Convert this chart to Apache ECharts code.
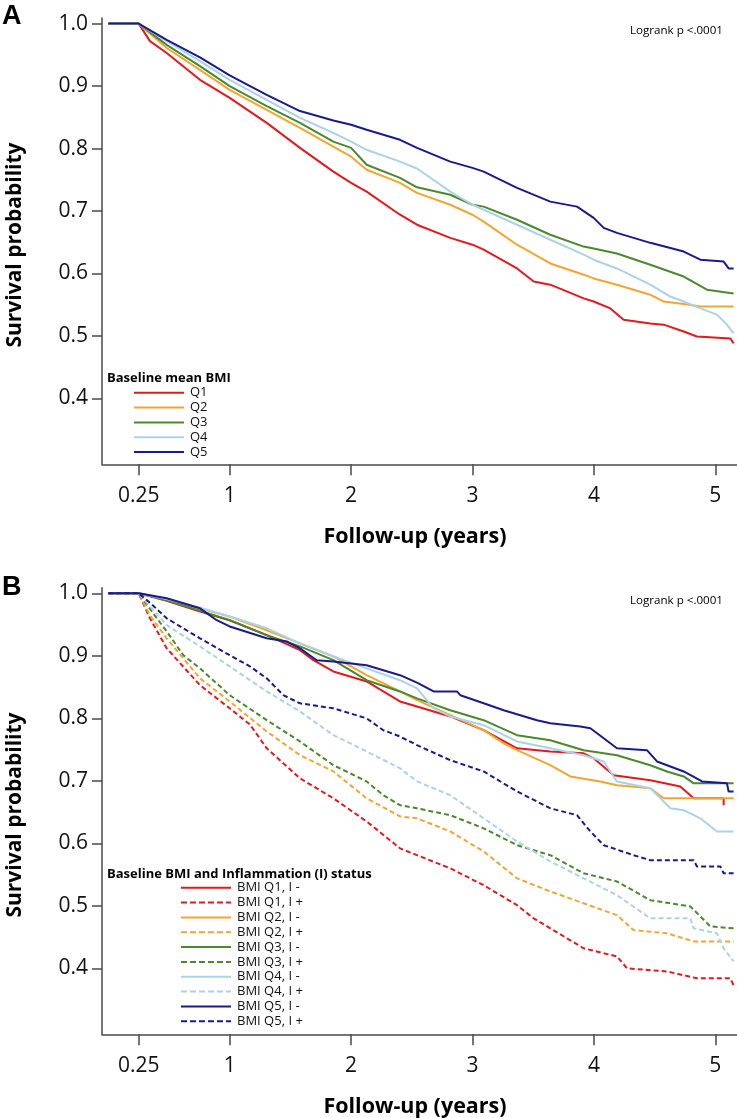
<!DOCTYPE html>
<html>
<head>
<meta charset="utf-8">
<script src="https://cdn.jsdelivr.net/npm/echarts@6/dist/echarts.min.js"></script>
<style>
html,body{margin:0;padding:0;background:#fff;}
#chart{width:737px;height:1118px;}
</style>
</head>
<body>
<div id="chart"></div>
<script>
// ---------- tick labels / categories ----------
const xTicks = [0.25, 1, 2, 3, 4, 5];
const yTicks = [0.4, 0.5, 0.6, 0.7, 0.8, 0.9, 1.0];
const namesA = ['Q1', 'Q2', 'Q3', 'Q4', 'Q5'];
const namesB = ['BMI Q1, I -', 'BMI Q1, I +', 'BMI Q2, I -', 'BMI Q2, I +', 'BMI Q3, I -',
                'BMI Q3, I +', 'BMI Q4, I -', 'BMI Q4, I +', 'BMI Q5, I -', 'BMI Q5, I +'];

// ---------- Panel A: [years, survival] ----------
const a_q1 = [[0,1],[0.25,1],[0.343,0.972],[0.481,0.953],[0.755,0.910],[1.0,0.881],[1.305,0.841],[1.579,0.801],[1.854,0.763],[2.0,0.745],[2.128,0.731],[2.403,0.694],[2.543,0.678],[2.817,0.657],[3.0,0.646],[3.092,0.638],[3.367,0.608],[3.504,0.587],[3.641,0.582],[3.916,0.560],[3.998,0.555],[4.136,0.544],[4.245,0.526],[4.465,0.520],[4.575,0.518],[4.740,0.507],[4.849,0.499],[5.124,0.496],[5.151,0.488]];
const a_q2 = [[0,1],[0.25,1],[0.481,0.961],[0.755,0.926],[1.0,0.894],[1.305,0.862],[1.579,0.833],[1.854,0.803],[2.0,0.787],[2.128,0.766],[2.403,0.745],[2.543,0.729],[2.817,0.710],[3.0,0.694],[3.092,0.683],[3.367,0.646],[3.641,0.616],[3.916,0.598],[3.998,0.592],[4.190,0.582],[4.465,0.566],[4.575,0.555],[4.740,0.551],[4.877,0.547],[5.151,0.547]];
const a_q3 = [[0,1],[0.25,1],[0.481,0.966],[0.755,0.932],[1.0,0.900],[1.305,0.868],[1.579,0.841],[1.854,0.811],[2.0,0.801],[2.128,0.774],[2.403,0.753],[2.543,0.738],[2.817,0.726],[3.0,0.710],[3.092,0.707],[3.367,0.686],[3.641,0.662],[3.916,0.643],[3.998,0.640],[4.190,0.632],[4.465,0.614],[4.740,0.595],[4.932,0.574],[5.151,0.568]];
const a_q4 = [[0,1],[0.25,1],[0.481,0.972],[0.755,0.940],[1.0,0.910],[1.305,0.878],[1.579,0.849],[1.854,0.825],[2.0,0.811],[2.128,0.798],[2.403,0.779],[2.543,0.768],[2.817,0.731],[3.0,0.710],[3.092,0.702],[3.367,0.678],[3.641,0.654],[3.916,0.630],[3.998,0.622],[4.190,0.608],[4.465,0.582],[4.630,0.563],[4.740,0.555],[4.877,0.544],[5.014,0.534],[5.096,0.518],[5.151,0.504]];
const a_q5 = [[0,1],[0.25,1],[0.481,0.974],[0.755,0.946],[1.0,0.917],[1.305,0.886],[1.579,0.860],[1.854,0.845],[2.0,0.838],[2.128,0.830],[2.403,0.814],[2.543,0.801],[2.817,0.779],[3.0,0.769],[3.092,0.763],[3.367,0.737],[3.641,0.715],[3.861,0.707],[3.998,0.689],[4.081,0.673],[4.190,0.665],[4.465,0.649],[4.740,0.635],[4.877,0.622],[5.069,0.619],[5.110,0.608],[5.151,0.608]];

// ---------- Panel B: [years, survival] ----------
const b_q1n = [[0,1],[0.25,1],[0.481,0.988],[0.755,0.971],[1.0,0.957],[1.305,0.933],[1.579,0.909],[1.689,0.893],[1.854,0.875],[2.128,0.859],[2.265,0.843],[2.403,0.827],[2.543,0.819],[2.817,0.803],[3.092,0.781],[3.367,0.752],[3.641,0.747],[3.916,0.744],[3.998,0.736],[4.163,0.709],[4.465,0.701],[4.712,0.691],[4.822,0.672],[5.069,0.672],[5.069,0.661]];
const b_q1p = [[0,1],[0.25,1],[0.343,0.960],[0.481,0.912],[0.755,0.853],[1.0,0.816],[1.167,0.790],[1.305,0.752],[1.579,0.704],[1.854,0.672],[2.128,0.635],[2.403,0.592],[2.543,0.581],[2.817,0.560],[3.092,0.533],[3.367,0.501],[3.504,0.480],[3.641,0.464],[3.916,0.432],[4.190,0.419],[4.273,0.400],[4.602,0.395],[4.849,0.384],[5.124,0.384],[5.151,0.373]];
const b_q2n = [[0,1],[0.25,1],[0.481,0.990],[0.755,0.976],[1.0,0.963],[1.305,0.941],[1.579,0.920],[1.854,0.899],[2.128,0.869],[2.403,0.843],[2.543,0.829],[2.817,0.805],[3.092,0.781],[3.257,0.760],[3.367,0.749],[3.641,0.725],[3.806,0.707],[4.053,0.699],[4.190,0.693],[4.465,0.688],[4.575,0.672],[5.151,0.672]];
const b_q2p = [[0,1],[0.25,1],[0.343,0.965],[0.481,0.928],[0.755,0.864],[1.0,0.827],[1.305,0.779],[1.579,0.741],[1.854,0.715],[2.128,0.672],[2.403,0.643],[2.543,0.640],[2.817,0.619],[3.092,0.587],[3.367,0.544],[3.641,0.523],[3.916,0.504],[4.190,0.485],[4.328,0.461],[4.602,0.456],[4.822,0.443],[5.151,0.443]];
const b_q3n = [[0,1],[0.25,1],[0.481,0.989],[0.755,0.972],[1.0,0.957],[1.305,0.933],[1.579,0.915],[1.854,0.893],[2.128,0.861],[2.403,0.843],[2.543,0.832],[2.817,0.813],[3.092,0.797],[3.367,0.773],[3.641,0.765],[3.916,0.749],[4.190,0.741],[4.465,0.725],[4.602,0.715],[4.740,0.707],[4.822,0.696],[5.151,0.696]];
const b_q3p = [[0,1],[0.25,1],[0.343,0.975],[0.481,0.939],[0.618,0.901],[0.755,0.880],[1.0,0.837],[1.305,0.797],[1.579,0.763],[1.854,0.725],[2.128,0.699],[2.265,0.677],[2.403,0.661],[2.543,0.656],[2.817,0.645],[3.092,0.624],[3.367,0.597],[3.641,0.581],[3.916,0.552],[4.190,0.539],[4.465,0.509],[4.795,0.499],[4.959,0.467],[5.151,0.464]];
const b_q4n = [[0,1],[0.25,1],[0.481,0.991],[0.755,0.977],[1.0,0.963],[1.305,0.944],[1.579,0.920],[1.854,0.899],[2.128,0.880],[2.403,0.861],[2.543,0.848],[2.680,0.816],[2.817,0.803],[3.092,0.789],[3.367,0.763],[3.641,0.752],[3.916,0.741],[4.081,0.731],[4.190,0.699],[4.465,0.688],[4.630,0.656],[4.740,0.653],[4.877,0.640],[5.014,0.619],[5.151,0.619]];
const b_q4p = [[0,1],[0.25,1],[0.481,0.949],[0.755,0.915],[1.0,0.883],[1.305,0.843],[1.579,0.811],[1.854,0.773],[2.128,0.747],[2.403,0.720],[2.543,0.699],[2.817,0.677],[3.092,0.640],[3.367,0.603],[3.641,0.571],[3.916,0.544],[4.190,0.517],[4.465,0.480],[4.795,0.480],[4.822,0.464],[5.014,0.456],[5.069,0.432],[5.151,0.411]];
const b_q5n = [[0,1],[0.25,1],[0.481,0.992],[0.755,0.976],[0.893,0.957],[1.0,0.947],[1.305,0.928],[1.469,0.923],[1.579,0.912],[1.716,0.893],[1.854,0.891],[2.128,0.885],[2.403,0.869],[2.543,0.857],[2.680,0.843],[2.872,0.843],[2.900,0.837],[3.092,0.824],[3.257,0.813],[3.394,0.805],[3.531,0.797],[3.641,0.792],[3.888,0.787],[3.971,0.784],[4.081,0.768],[4.190,0.752],[4.437,0.749],[4.520,0.731],[4.740,0.715],[4.891,0.699],[5.096,0.696],[5.110,0.683],[5.151,0.683]];
const b_q5p = [[0,1],[0.25,1],[0.343,0.985],[0.481,0.960],[0.755,0.928],[1.0,0.901],[1.167,0.883],[1.305,0.864],[1.442,0.837],[1.579,0.824],[1.854,0.816],[2.128,0.800],[2.265,0.781],[2.403,0.771],[2.543,0.757],[2.817,0.733],[3.092,0.715],[3.367,0.683],[3.641,0.656],[3.861,0.645],[3.971,0.619],[4.081,0.597],[4.328,0.581],[4.465,0.573],[4.822,0.573],[4.849,0.563],[5.042,0.563],[5.069,0.552],[5.151,0.552]];

const seriesA = [a_q1, a_q2, a_q3, a_q4, a_q5];
const seriesB = [b_q1n, b_q1p, b_q2n, b_q2p, b_q3n, b_q3p, b_q4n, b_q4p, b_q5n, b_q5p];

// ---------- styling ----------
const COLORS = ['#e01b1f', '#f2a531', '#4a8a2c', '#abd2e6', '#1a1a8c'];
const FONT = "'Open Sans', 'DejaVu Sans', sans-serif";
const AXIS_COLOR = '#4a4a4a';
const ICON_SOLID = 'path://M0,0H50V2H0Z';
const ICON_DASH = 'path://M0,0h6v2h-6z M9,0h6v2h-6z M18,0h6v2h-6z M27,0h6v2h-6z M36,0h6v2h-6z M45,0h5v2h-5z';

function makeAxes(gridIndex) {
  const x = {
    type: 'value', gridIndex: gridIndex, min: -0.052, max: 5.179,
    axisLine: { show: true, onZero: false, lineStyle: { color: AXIS_COLOR, width: 1.5 } },
    axisTick: { show: true, inside: false, length: 11, customValues: xTicks, lineStyle: { color: AXIS_COLOR, width: 1.5 } },
    axisLabel: { show: true, customValues: xTicks, margin: 21, fontFamily: FONT, fontSize: 21, color: '#111',
                 formatter: v => String(v) },
    splitLine: { show: false }
  };
  const y = {
    type: 'value', gridIndex: gridIndex, min: 0.2944, max: 1.009,
    axisLine: { show: true, onZero: false, lineStyle: { color: AXIS_COLOR, width: 1.5 } },
    axisTick: { show: true, inside: false, length: 10, customValues: yTicks, lineStyle: { color: AXIS_COLOR, width: 1.5 } },
    axisLabel: { show: true, customValues: yTicks, margin: 14, fontFamily: FONT, fontSize: 21, color: '#111',
                 formatter: v => v.toFixed(1) },
    splitLine: { show: false }
  };
  return { x, y };
}

const axA = makeAxes(0), axB = makeAxes(1);

const series = [];
seriesA.forEach((d, i) => {
  series.push({
    name: namesA[i], type: 'line', xAxisIndex: 0, yAxisIndex: 0, data: d,
    symbol: 'none', showSymbol: false, smooth: false,
    lineStyle: { color: COLORS[i], width: 2 }, itemStyle: { color: COLORS[i] }
  });
});
seriesB.forEach((d, i) => {
  const c = COLORS[Math.floor(i / 2)];
  const dashed = i % 2 === 1;
  series.push({
    name: namesB[i], type: 'line', xAxisIndex: 1, yAxisIndex: 1, data: d,
    symbol: 'none', showSymbol: false, smooth: false,
    lineStyle: { color: c, width: 2, type: dashed ? [5, 3] : 'solid' }, itemStyle: { color: c }
  });
});

function txt(text, x, y, size, weight, align, extra) {
  return Object.assign({
    type: 'text', x: x, y: y, z: 10,
    style: { text: text, fontFamily: FONT, fontSize: size, fontWeight: weight, fill: '#000',
             align: align, verticalAlign: 'middle' }
  }, extra || {});
}

const legendCommon = {
  orient: 'vertical', itemWidth: 50, itemHeight: 2, itemGap: 0, selectedMode: false,
  itemStyle: { borderWidth: 0 },
  textStyle: { fontFamily: FONT, fontSize: 13, color: '#111', lineHeight: 14.84, padding: [0, 0, 0, 1] },
  padding: 0
};

const option = {
  animation: false,
  backgroundColor: '#fff',
  grid: [
    { left: 102, right: 0, top: 18, bottom: 653.7, containLabel: false },
    { left: 102, right: 0, top: 587.7, bottom: 83.7, containLabel: false }
  ],
  xAxis: [axA.x, axB.x],
  yAxis: [axA.y, axB.y],
  legend: [
    Object.assign({}, legendCommon, { left: 134, top: 385.3,
      data: namesA.map(n => ({ name: n, icon: ICON_SOLID })) }),
    Object.assign({}, legendCommon, { left: 181, top: 880.3,
      data: namesB.map((n, i) => ({ name: n, icon: i % 2 ? ICON_DASH : ICON_SOLID })) })
  ],
  graphic: [
    { type: 'text', x: 2, y: 16.6, z: 10, style: { text: 'A', fontFamily: "'Liberation Sans', Arial, sans-serif", fontSize: 27, fontWeight: 'bold', fill: '#000', align: 'left', verticalAlign: 'middle' } },
    { type: 'text', x: 2, y: 587.3, z: 10, style: { text: 'B', fontFamily: "'Liberation Sans', Arial, sans-serif", fontSize: 27, fontWeight: 'bold', fill: '#000', align: 'left', verticalAlign: 'middle' } },
    txt('Logrank p <.0001', 723, 31, 11.6, 'normal', 'right'),
    txt('Logrank p <.0001', 723, 601, 11.6, 'normal', 'right'),
    txt('Baseline mean BMI', 107, 377.8, 13, 'bold', 'left'),
    txt('Baseline BMI and Inflammation (I) status', 107, 874, 13, 'bold', 'left'),
    txt('Survival probability', 15, 245, 21, 'bold', 'center', { rotation: Math.PI / 2 }),
    txt('Survival probability', 15, 815, 21, 'bold', 'center', { rotation: Math.PI / 2 }),
    txt('Follow-up (years)', 415, 537, 21.5, 'bold', 'center'),
    txt('Follow-up (years)', 415, 1106.5, 21.5, 'bold', 'center')
  ],
  series: series
};

const chart = echarts.init(document.getElementById('chart'), null, { renderer: 'canvas' });
chart.setOption(option);
</script>
</body>
</html>
